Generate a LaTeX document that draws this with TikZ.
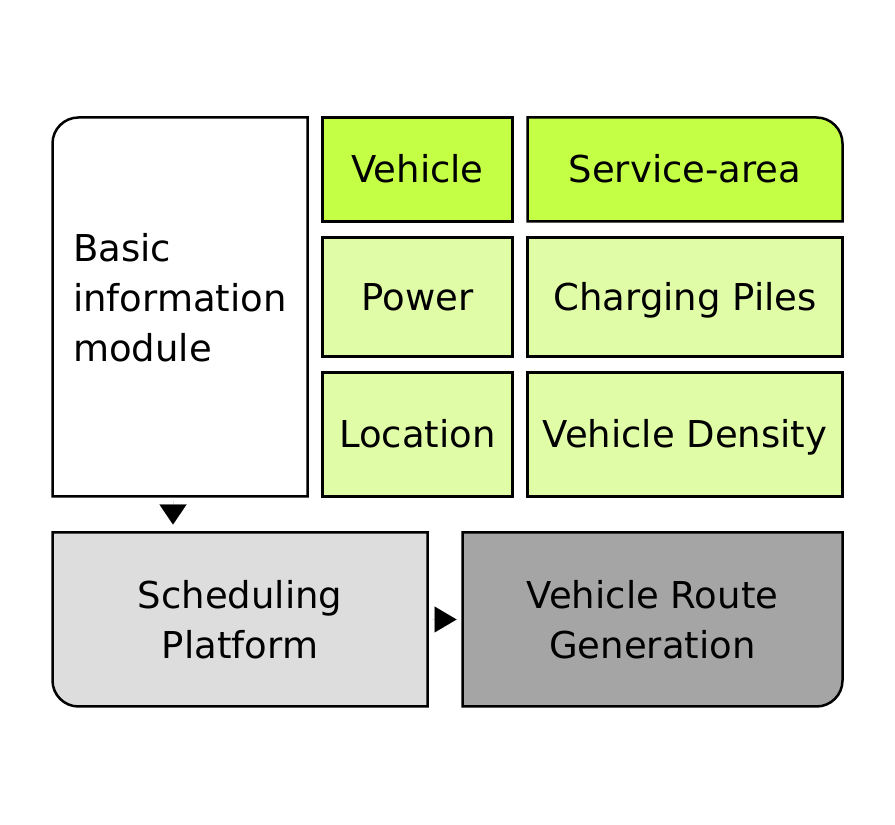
\documentclass[tikz,border=0pt]{standalone}
\usepackage{fontspec}
\setmainfont{DejaVu Sans}
\usetikzlibrary{arrows.meta,backgrounds}
\definecolor{keygreen}{HTML}{C5FF45}
\definecolor{palegreen}{HTML}{E0FCA6}
\definecolor{lightgrey}{HTML}{DDDDDD}
\definecolor{midgrey}{HTML}{A5A5A5}
\begin{document}
\begin{tikzpicture}
[x=1pt, y=1pt, line width=2.5pt,
 every node/.style={inner sep=0pt, outer sep=0pt, anchor=center, font=\fontsize{37}{50}\selectfont, align=center},
 cell/.style={draw, minimum width=190pt, text height=27pt, text depth=0pt},
 widecell/.style={draw, minimum width=315pt, text height=27pt, text depth=0pt},
 corner/.style={line width=2.5pt},
 flow/.style={line width=0.01pt, -{Triangle[length=20pt, width=27pt]}}]
\useasboundingbox (0,0) rectangle (895,825);
% Define the boxes
\node[minimum width=255pt, minimum height=379pt, align=left, text depth=20pt] (basic) at (180,518) {Basic\\information\\module};
\node[cell, fill=keygreen, minimum height=104pt] (vehicle) at (417.5,655.5) {Vehicle};
\node[minimum width=315pt, minimum height=104pt, text height=27pt, text depth=0pt] (service) at (685,655.5) {Service-area};
\node[cell, fill=palegreen, minimum height=119pt] (power) at (417.5,528) {Power};
\node[widecell, fill=palegreen, minimum height=119pt] (piles) at (685,528) {Charging Piles};
\node[cell, fill=palegreen, minimum height=124pt] (location) at (417.5,390.5) {Location};
\node[widecell, fill=palegreen, minimum height=124pt] (density) at (685,390.5) {Vehicle Density};
\node[minimum width=375pt, minimum height=174pt] (sched) at (240,205.5) {Scheduling\\Platform};
\node[minimum width=380pt, minimum height=174pt] (route) at (652.5,205.5) {Vehicle Route\\Generation};

% Boxes with one rounded corner
\begin{scope}[on background layer]
\draw[corner, fill=white] (basic.south west) -- ([yshift=-26pt]basic.north west) arc[start angle=180, end angle=90, radius=26pt] -- (basic.north east) -- (basic.south east) -- cycle;
\draw[corner, fill=keygreen] (service.south west) -- (service.north west) -- ([xshift=-26pt]service.north east) arc[start angle=90, end angle=0, radius=26pt] -- (service.south east) -- cycle;
\draw[corner, fill=lightgrey] (sched.north west) -- ([yshift=26pt]sched.south west) arc[start angle=180, end angle=270, radius=26pt] -- (sched.south east) -- (sched.north east) -- cycle;
\draw[corner, fill=midgrey] (route.north west) -- (route.south west) -- ([xshift=-26pt]route.south east) arc[start angle=270, end angle=360, radius=26pt] -- (route.north east) -- cycle;
\end{scope}

\draw[flow, shorten <=5pt, shorten >=8pt] ([xshift=-7pt]basic.south) -- ([xshift=-7pt]basic.south |- sched.north);
\draw[flow, -{Triangle[length=22pt, width=26pt]}, shorten <=4pt, shorten >=6pt] (sched.east) -- (route.west);
\end{tikzpicture}
\end{document}
